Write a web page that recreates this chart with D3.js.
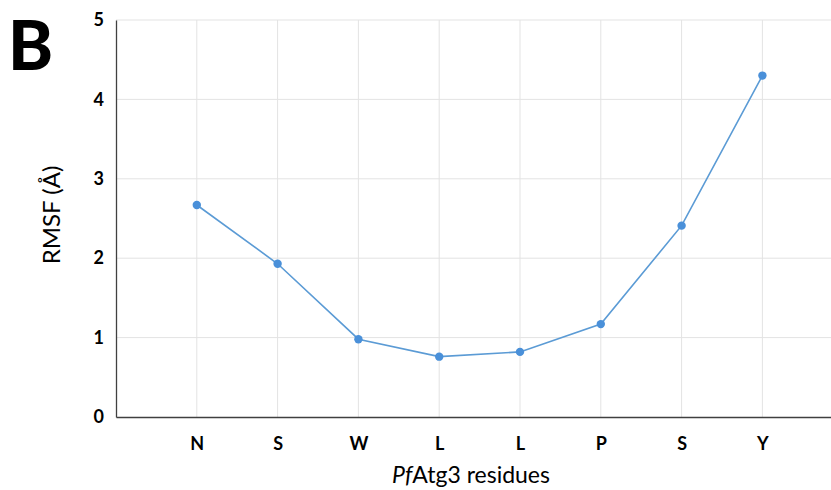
<!DOCTYPE html>
<html><head><meta charset="utf-8">
<script src="https://cdn.jsdelivr.net/npm/d3@7"></script>
<style>body{margin:0;background:#fff}svg{display:block}</style>
</head><body>
<svg id="c" width="831" height="490"></svg>
<script>
const residues = ["N","S","W","L","L","P","S","Y"];
const rmsf = [2.67, 1.93, 0.98, 0.76, 0.82, 1.17, 2.41, 4.30];
const yTicks = [0,1,2,3,4,5];

const svg = d3.select("#c");
const font = "Lato, 'Open Sans', sans-serif";
const mLeft = 116, mTop = 20, mBottom = 417;
const step = 80.8;
const idx = residues.map((d,i)=>i);
const x = d3.scaleLinear().domain([-1, 8]).range([mLeft, mLeft + step*9]);
const y = d3.scaleLinear().domain([0,5]).range([mBottom, mTop]);

// vertical gridlines
svg.append("g").selectAll("line").data(idx).join("line")
  .attr("x1", d=>x(d)).attr("x2", d=>x(d)).attr("y1", mTop).attr("y2", mBottom)
  .attr("stroke", "#e3e3e3").attr("stroke-width", 1);
// horizontal gridlines
svg.append("g").selectAll("line").data(yTicks.slice(1)).join("line")
  .attr("x1", mLeft).attr("x2", 831).attr("y1", d=>y(d)).attr("y2", d=>y(d))
  .attr("stroke", "#e3e3e3").attr("stroke-width", 1);

// axes
const yAxis = d3.axisLeft(y).tickValues(yTicks).tickSize(0).tickPadding(12).tickFormat(d3.format("d"));
const gy = svg.append("g").attr("transform", `translate(${mLeft},0)`).call(yAxis);
gy.select(".domain").attr("stroke", "#404040").attr("stroke-width", 1.3);
gy.selectAll("text").attr("font-family", font).attr("font-weight", "bold").attr("font-size", 18).attr("fill", "#000");

const xAxis = d3.axisBottom(x).tickValues(idx).tickSize(0).tickPadding(20).tickFormat(i=>residues[i]);
const gx = svg.append("g").attr("transform", `translate(0,${mBottom})`).call(xAxis);
gx.select(".domain").attr("stroke", "#404040").attr("stroke-width", 1.3);
gx.selectAll("text").attr("font-family", font).attr("font-weight", "bold").attr("font-size", 18).attr("fill", "#000");

// line
const line = d3.line().x((d,i)=>x(i)).y(d=>y(d));
svg.append("path").datum(rmsf).attr("d", line)
  .attr("fill", "none").attr("stroke", "#5b9bd5").attr("stroke-width", 1.6);
svg.append("g").selectAll("circle").data(rmsf).join("circle")
  .attr("cx", (d,i)=>x(i)).attr("cy", d=>y(d)).attr("r", 4.2)
  .attr("fill", "#4a90d9");

// titles
const xt = svg.append("text").attr("x", 471).attr("y", 483).attr("text-anchor","middle")
  .attr("font-family", font).attr("font-size", 23).attr("fill", "#000");
xt.append("tspan").attr("font-style","italic").text("Pf");
xt.append("tspan").text("Atg3 residues");

svg.append("text").attr("transform", "translate(60,215) rotate(-90)").attr("text-anchor","middle")
  .attr("font-family", font).attr("font-size", 24).attr("fill", "#000").text("RMSF (Å)");

svg.append("text").attr("x", 8).attr("y", 70)
  .attr("font-family", font).attr("font-weight", "900").attr("font-size", 68).attr("fill", "#000").text("B");
</script>
</body></html>
